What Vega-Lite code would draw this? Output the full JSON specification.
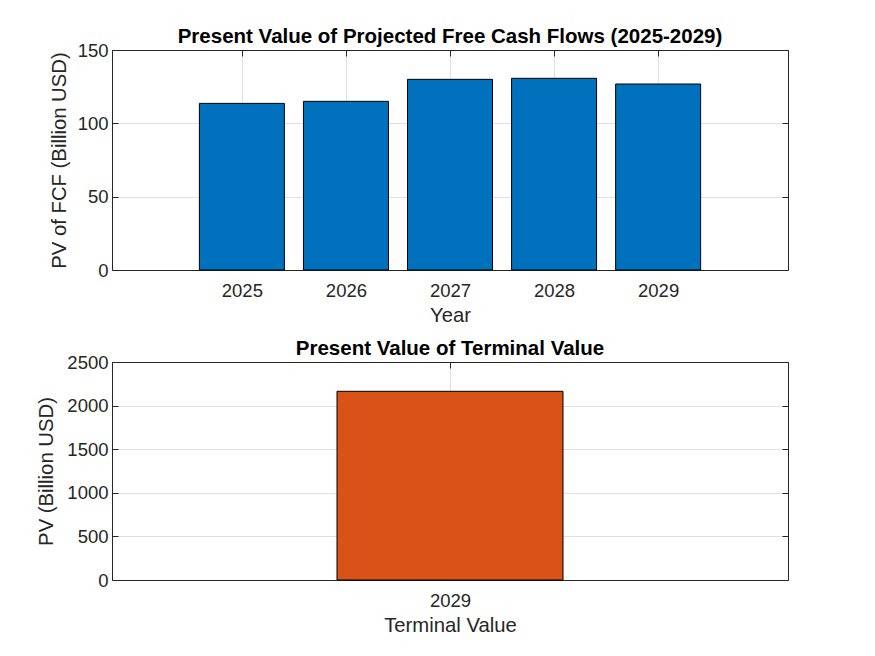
{
  "$schema": "https://vega.github.io/schema/vega-lite/v6.json",
  "background": "white",
  "padding": {"left": 36, "top": 26, "right": 0, "bottom": 0},
  "autosize": "pad",
  "spacing": 12,
  "config": {
    "font": "Liberation Sans",
    "view": {"stroke": null},
    "axis": {
      "labelFont": "Liberation Sans",
      "titleFont": "Liberation Sans",
      "labelFontSize": 18.5,
      "titleFontSize": 20.3,
      "titleFontWeight": "normal",
      "labelColor": "#262626",
      "titleColor": "#262626",
      "domainColor": "#262626",
      "tickColor": "#262626",
      "gridColor": "#e0e0e0",
      "gridWidth": 1,
      "domainWidth": 1,
      "tickSize": -6,
      "zindex": 1
    },
    "title": {"font": "Liberation Sans", "fontSize": 20.5, "fontWeight": "bold", "color": "black", "offset": -6}
  },
  "vconcat": [
    {
      "width": 676,
      "height": 220,
      "title": {"text": "Present Value of Projected Free Cash Flows (2025-2029)"},
      "data": {"values": [
        {"year": 2025, "pv": 113.6},
        {"year": 2026, "pv": 115.0},
        {"year": 2027, "pv": 130.0},
        {"year": 2028, "pv": 130.7},
        {"year": 2029, "pv": 126.8}
      ]},
      "layer": [
        {
          "mark": {"type": "bar", "size": 85, "color": "#0072BD", "stroke": "black", "strokeWidth": 1},
          "encoding": {
            "x": {"field": "year", "type": "quantitative",
              "scale": {"domain": [2023.8, 2030.2], "nice": false, "zero": false},
              "axis": {"values": [2025, 2026, 2027, 2028, 2029], "format": "d", "title": "Year", "grid": true, "labelPadding": 17, "titlePadding": 6}},
            "y": {"field": "pv", "type": "quantitative",
              "scale": {"domain": [0, 150], "nice": false},
              "axis": {"values": [0, 50, 100, 150], "format": "d", "title": "PV of FCF (Billion USD)", "grid": true, "labelPadding": 10, "titlePadding": 8}}
          }
        },
        {
          "mark": {"type": "bar", "size": 85, "opacity": 0},
          "encoding": {
            "x": {"field": "year", "type": "quantitative",
              "scale": {"domain": [2023.8, 2030.2], "nice": false, "zero": false},
              "axis": {"orient": "top", "values": [2025, 2026, 2027, 2028, 2029], "labels": false, "title": null, "grid": false}},
            "y": {"field": "pv", "type": "quantitative",
              "scale": {"domain": [0, 150], "nice": false},
              "axis": {"orient": "right", "values": [0, 50, 100, 150], "labels": false, "title": null, "grid": false}}
          }
        }
      ],
      "resolve": {"axis": {"x": "independent", "y": "independent"}}
    },
    {
      "width": 676,
      "height": 218,
      "title": {"text": "Present Value of Terminal Value"},
      "data": {"values": [
        {"label": 2029, "pv": 2164}
      ]},
      "layer": [
        {
          "mark": {"type": "bar", "size": 226, "color": "#D95319", "stroke": "black", "strokeWidth": 1},
          "encoding": {
            "x": {"field": "label", "type": "quantitative",
              "scale": {"domain": [2028, 2030], "nice": false, "zero": false},
              "axis": {"values": [2029], "format": "d", "title": "Terminal Value", "grid": true, "labelPadding": 17, "titlePadding": 6}},
            "y": {"field": "pv", "type": "quantitative",
              "scale": {"domain": [0, 2500], "nice": false},
              "axis": {"values": [0, 500, 1000, 1500, 2000, 2500], "format": "d", "title": "PV (Billion USD)", "grid": true, "labelPadding": 10, "titlePadding": 10}}
          }
        },
        {
          "mark": {"type": "bar", "size": 226, "opacity": 0},
          "encoding": {
            "x": {"field": "label", "type": "quantitative",
              "scale": {"domain": [2028, 2030], "nice": false, "zero": false},
              "axis": {"orient": "top", "values": [2029], "labels": false, "title": null, "grid": false}},
            "y": {"field": "pv", "type": "quantitative",
              "scale": {"domain": [0, 2500], "nice": false},
              "axis": {"orient": "right", "values": [0, 500, 1000, 1500, 2000, 2500], "labels": false, "title": null, "grid": false}}
          }
        }
      ],
      "resolve": {"axis": {"x": "independent", "y": "independent"}}
    }
  ]
}
